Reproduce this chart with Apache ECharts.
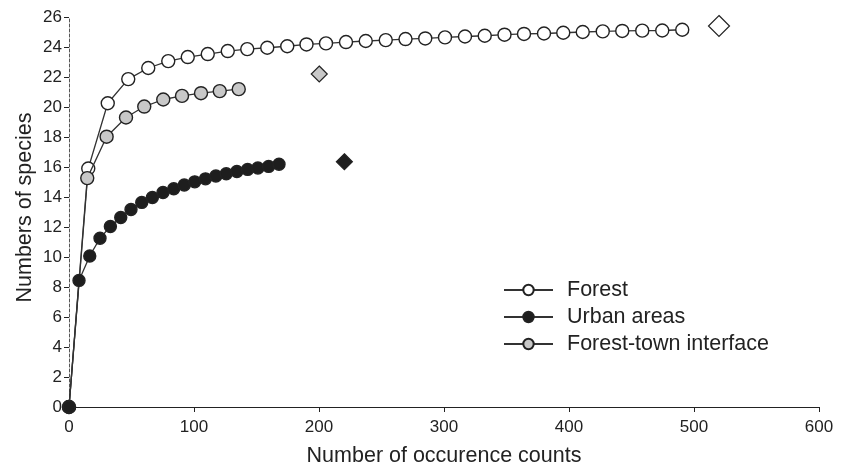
<!DOCTYPE html>
<html>
<head>
<meta charset="utf-8">
<script src="https://cdn.jsdelivr.net/npm/echarts@6/dist/echarts.min.js"></script>
<style>html,body{margin:0;padding:0;background:#fff}#c{width:845px;height:466px}</style>
</head>
<body>
<div id="c"></div>
<script>
const forestX = [0,15.4,31,47.4,63.4,79.4,95,111,127,142.6,158.6,174.6,190,205.6,221.6,237.4,253.4,269.2,285,300.8,316.8,332.6,348.4,364,380,395.4,411,427,442.6,458.6,474.6,490.6];
const forestY = [0,15.9,20.25,21.86,22.6,23.06,23.33,23.53,23.73,23.86,23.95,24.05,24.17,24.24,24.33,24.4,24.46,24.53,24.57,24.64,24.7,24.75,24.82,24.87,24.9,24.95,25.0,25.04,25.07,25.09,25.1,25.15];
const urbanX = [0,8.0,16.6,24.8,33.1,41.4,49.6,58.2,66.7,75.2,83.8,92.2,100.6,109.2,117.5,125.8,134.3,142.9,151.1,159.7,168];
const urbanY = [0,8.44,10.07,11.25,12.03,12.63,13.17,13.64,13.97,14.3,14.55,14.8,15.01,15.21,15.4,15.55,15.7,15.84,15.93,16.04,16.18];
const interfaceX = [0,14.6,30.1,45.6,60.2,75.4,90.4,105.6,120.6,135.8];
const interfaceY = [0,15.26,18.02,19.3,20.03,20.5,20.74,20.92,21.06,21.19];
const estimateForest = [520, 25.4];
const estimateInterface = [200.2, 22.2];
const estimateUrban = [220.3, 16.35];
const seriesNames = ['Forest','Urban areas','Forest-town interface'];
const xTicks = [0,100,200,300,400,500,600];
const yTicks = [0,2,4,6,8,10,12,14,16,18,20,22,24,26];

const zip = (xs, ys) => xs.map((x, i) => [x, ys[i]]);
const font = 'Liberation Sans, Arial, sans-serif';
const ink = '#222';

const chart = echarts.init(document.getElementById('c'), null, {renderer: 'canvas'});
const lineSeries = (name, xs, ys, fill, size, z) => ({
  name, type: 'line', data: zip(xs, ys), symbol: 'circle', symbolSize: size,
  showSymbol: true, z,
  lineStyle: {color: '#333', width: 1.3},
  itemStyle: {color: fill, borderColor: ink, borderWidth: 1.4, opacity: 1},
  emphasis: {disabled: true}, animation: false
});
const diamond = (pt, fill, size) => ({
  type: 'scatter', data: [pt], symbol: 'diamond', symbolSize: size,
  itemStyle: {color: fill, borderColor: ink, borderWidth: 1.2, opacity: 1},
  emphasis: {disabled: true}, animation: false
});

chart.setOption({
  backgroundColor: '#fff',
  animation: false,
  grid: {left: 69, right: 26, top: 17, bottom: 59, containLabel: false, outerBoundsMode: 'none'},
  legend: {
    data: seriesNames, orient: 'vertical', left: 503, top: 279, padding: 0,
    itemWidth: 49, itemHeight: 13, itemGap: 5,
    textStyle: {fontFamily: font, fontSize: 21.5, color: ink, padding: [0,0,0,9]},
    selectedMode: false
  },
  xAxis: {
    type: 'value', min: 0, max: 600, interval: 100,
    name: 'Number of occurence counts', nameLocation: 'middle', nameGap: 38,
    nameMoveOverlap: false,
    nameTextStyle: {fontFamily: font, fontSize: 21.5, color: ink},
    axisLine: {lineStyle: {color: ink, width: 1.2}},
    axisTick: {show: true, length: 5, lineStyle: {color: ink}},
    axisLabel: {fontFamily: font, fontSize: 17, color: ink, margin: 12},
    splitLine: {show: false}
  },
  yAxis: {
    type: 'value', min: 0, max: 26, interval: 2,
    name: 'Numbers of species', nameLocation: 'middle', nameGap: 33,
    nameMoveOverlap: false,
    nameTextStyle: {fontFamily: font, fontSize: 21.5, color: ink, padding: [0, 0, 0, 9]},
    axisLine: {show: true, lineStyle: {color: '#555', width: 1, type: [3, 2]}},
    axisTick: {show: true, length: 5, lineStyle: {color: ink}},
    axisLabel: {fontFamily: font, fontSize: 17, color: ink, margin: 7},
    splitLine: {show: false}
  },
  series: [
    lineSeries(seriesNames[0], forestX, forestY, '#fff', 13, 3),
    lineSeries(seriesNames[2], interfaceX, interfaceY, '#c8c8c8', 13, 4),
    lineSeries(seriesNames[1], urbanX, urbanY, '#1e1e1e', 12, 5),
    diamond(estimateForest, '#fff', 21),
    diamond(estimateInterface, '#c8c8c8', 16),
    diamond(estimateUrban, '#1e1e1e', 16)
  ]
});
</script>
</body>
</html>
